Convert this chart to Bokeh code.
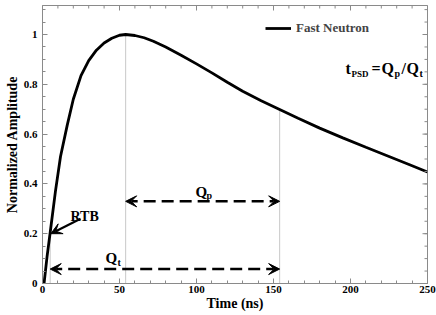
import math
from bokeh.plotting import figure
from bokeh.models import (FixedTicker, CustomJSTickFormatter, Range1d,
                          Legend, LegendItem, Arrow, VeeHead, Label)
from bokeh.embed import file_html
from bokeh.resources import INLINE

# ---- data ----
t_ns = [1, 3, 5.2, 8.4, 11.7, 16, 20, 25, 30, 35, 40, 45, 50, 54, 60, 66, 72, 80, 90,
        100, 110, 120, 130, 142, 154, 166, 180, 195, 210, 225, 238, 250]
amplitude = [0, 0.11, 0.215, 0.37, 0.51, 0.634, 0.74, 0.835, 0.895, 0.937, 0.966,
             0.985, 0.997, 1.0, 0.996, 0.987, 0.973, 0.950, 0.917, 0.882, 0.846,
             0.808, 0.772, 0.734, 0.699, 0.664, 0.624, 0.585, 0.547, 0.51, 0.478, 0.448]
gate_times = [5, 54, 154]          # RTB point, peak, end of integration
gate_heights = [0.2, 1.0, 0.699]
qp_window = (54, 154)
qt_window = (5, 154)
qp_level = 0.33
qt_level = 0.058
x_ticks = [0, 50, 100, 150, 200, 250]
x_minor = list(range(0, 251, 10))
y_ticks = [0, 0.2, 0.4, 0.6, 0.8, 1.0]
y_minor = [round(i * 0.05, 2) for i in range(0, 23)]
x_max = 250
y_max = 1.1165

FONT = "Liberation Serif"
GREY = "#8a8a8a"

p = figure(width=436, height=315, output_backend="svg", toolbar_location=None,
           x_range=Range1d(0, x_max), y_range=Range1d(0, y_max),
           min_border_left=42, min_border_right=9, min_border_top=5, min_border_bottom=32,
           background_fill_color="white", border_fill_color="white")
p.grid.visible = False
p.outline_line_color = GREY
p.outline_line_width = 1

# gate lines
p.segment(x0=gate_times, y0=[0] * 3, x1=gate_times, y1=gate_heights,
          line_color="#c8c8c8", line_width=1)

curve = p.line(t_ns, amplitude, line_color="black", line_width=2.8)

# mirrored ticks on the top and right frame edges (half of each dash is clipped away)
p.scatter(x=x_ticks, y=[y_max] * len(x_ticks), marker="dash", size=10, angle=math.pi / 2,
          line_color=GREY, line_width=1)
p.scatter(x=x_minor, y=[y_max] * len(x_minor), marker="dash", size=6, angle=math.pi / 2,
          line_color=GREY, line_width=1)
p.scatter(x=[x_max] * len(y_ticks), y=y_ticks, marker="dash", size=10,
          line_color=GREY, line_width=1)
p.scatter(x=[x_max] * len(y_minor), y=y_minor, marker="dash", size=6,
          line_color=GREY, line_width=1)

def style_axis(ax):
    ax.axis_line_color = GREY
    ax.major_tick_line_color = GREY
    ax.minor_tick_line_color = GREY
    ax.major_tick_in = 5
    ax.major_tick_out = 0
    ax.minor_tick_in = 3
    ax.minor_tick_out = 0
    ax.major_label_text_font = FONT
    ax.major_label_text_font_style = "bold"
    ax.major_label_text_font_size = "11px"
    ax.major_label_text_color = "black"
    ax.axis_label_text_font = FONT
    ax.axis_label_text_font_style = "bold"
    ax.axis_label_text_font_size = "14px"
    ax.axis_label_text_color = "black"

xa = p.xaxis[0]
xa.ticker = FixedTicker(ticks=x_ticks, minor_ticks=x_minor)
style_axis(xa)
xa.axis_label = "Time (ns)"
xa.major_label_standoff = 2
xa.axis_label_standoff = 0

ya = p.yaxis[0]
ya.ticker = FixedTicker(ticks=y_ticks, minor_ticks=y_minor)
ya.formatter = CustomJSTickFormatter(code="return String(Math.round(tick*10)/10);")
style_axis(ya)
ya.axis_label = "Normalized Amplitude"
ya.major_label_standoff = 5
ya.axis_label_standoff = 1

# legend
legend = Legend(items=[LegendItem(label="Fast Neutron", renderers=[curve])],
                location=(223, 247), padding=0, margin=0, spacing=0,
                glyph_width=26, glyph_height=14, label_height=14, label_standoff=5,
                border_line_alpha=0, background_fill_alpha=0,
                label_text_font=FONT, label_text_font_style="bold",
                label_text_font_size="13px")
p.add_layout(legend)

# arrows
def head():
    return VeeHead(size=11, fill_color="black", line_color="black")

p.add_layout(Arrow(start=head(), end=head(), x_start=qp_window[0], x_end=qp_window[1],
                   y_start=qp_level, y_end=qp_level, line_width=2.5, line_dash="12 6"))
p.add_layout(Arrow(start=head(), end=head(), x_start=qt_window[0], x_end=qt_window[1],
                   y_start=qt_level, y_end=qt_level, line_width=2.5, line_dash="12 6"))
p.add_layout(Arrow(end=head(), x_start=24.7, y_start=0.26, x_end=5.4, y_end=0.2,
                   line_width=2.2))

# texts: positions given in frame-relative screen pixels (x from left, baseline y from bottom)
pieces = [
    ("t", 303, 215, 16), ("PSD", 309, 210, 9), ("=", 329, 215, 16), ("Q", 339, 215, 16),
    ("p", 352, 210, 10), ("/", 359, 215, 16), ("Q", 364, 215, 16), ("t", 377, 210, 10),
    ("Q", 153, 92, 15), ("p", 164, 88, 10),
    ("Q", 63, 26, 15), ("t", 75, 21, 10),
    ("RTB", 28, 67, 14),
]
for txt, sx, sy, sz in pieces:
    p.add_layout(Label(x=sx, y=sy, x_units="screen", y_units="screen", text=txt,
                       text_font=FONT, text_font_style="bold",
                       text_font_size=f"{sz}px", text_baseline="alphabetic",
                       text_align="left", text_color="black"))

open("out.html", "w").write(file_html(p, INLINE))
